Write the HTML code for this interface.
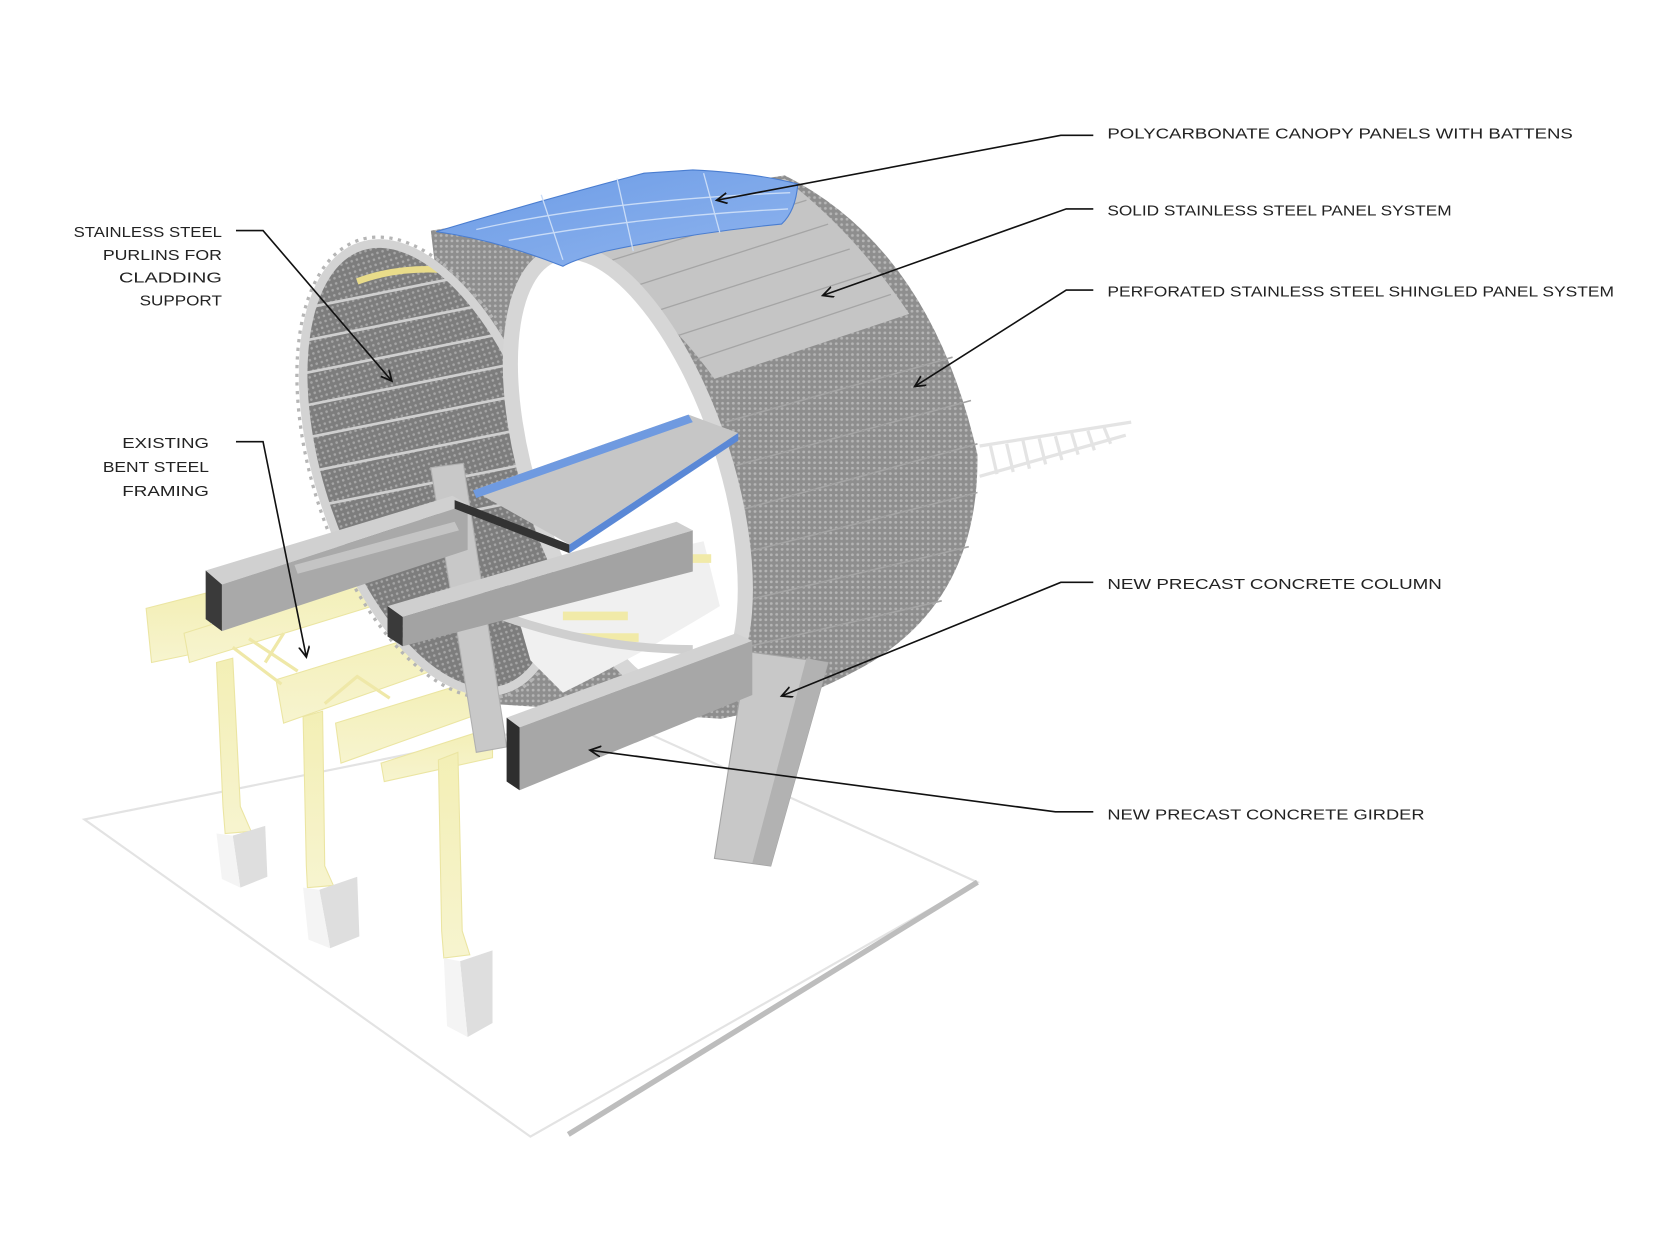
<!DOCTYPE html>
<html><head><meta charset="utf-8"><style>
html,body{margin:0;padding:0;background:#fff;}
svg{display:block;}
text{font-family:"Liberation Sans",sans-serif;font-size:14px;fill:#222;}
</style></head><body>
<svg width="1680" height="1260" viewBox="0 0 1552 1164" preserveAspectRatio="none" xmlns="http://www.w3.org/2000/svg">
<defs>
<marker id="ar" markerWidth="12" markerHeight="12" refX="10" refY="5" orient="auto" markerUnits="userSpaceOnUse">
<path d="M0,0 L10,5 L0,10" fill="none" stroke="#111" stroke-width="1.6"/>
</marker>
<pattern id="perf" width="5" height="5" patternUnits="userSpaceOnUse">
<rect width="5" height="5" fill="#8e8e8e"/><circle cx="2.5" cy="2.5" r="1.3" fill="#b5b5b5"/>
</pattern>
<pattern id="perf2" width="5" height="5" patternUnits="userSpaceOnUse">
<rect width="5" height="5" fill="#7d7d7d"/><circle cx="2.5" cy="2.5" r="1.2" fill="#a5a5a5"/>
</pattern>
<linearGradient id="blue" x1="0" y1="0" x2="1" y2="1">
<stop offset="0" stop-color="#6b9be6"/><stop offset="1" stop-color="#8fb4ee"/>
</linearGradient>
<linearGradient id="yl" x1="0" y1="0" x2="0" y2="1">
<stop offset="0" stop-color="#f3efb5"/><stop offset="1" stop-color="#f7f4cf"/>
</linearGradient>
<clipPath id="farclip"><ellipse cx="400" cy="432" rx="105" ry="215" transform="rotate(-18 400 432)"/></clipPath>
</defs>

<polygon points="78,757 490,1050 903,815 560,660" fill="#fff" stroke="#e3e3e3" stroke-width="2"/>
<line x1="525" y1="1048" x2="903" y2="815" stroke="#bdbdbd" stroke-width="5"/>

<g stroke="#e4e4e4" stroke-width="3" fill="none">
<line x1="905" y1="412" x2="1045" y2="390"/>
<line x1="905" y1="440" x2="1040" y2="402"/>
<path d="M915,412 l6,26 M930,410 l6,26 M945,407 l6,26 M960,405 l6,24 M975,403 l6,22 M990,400 l6,20 M1005,398 l6,18 M1020,395 l6,15"/>
</g>

<g fill="url(#yl)" stroke="#ebe5a2" stroke-width="1">
<polygon points="135,562 190,548 198,600 140,612"/>
<polygon points="170,585 350,528 360,555 175,612"/>
<polygon points="255,628 450,568 455,600 262,668"/>
<polygon points="310,668 450,625 455,655 315,705"/>
<polygon points="352,705 455,672 455,700 355,722"/>
<polygon points="200,612 215,608 222,745 232,768 208,770 206,745"/>
<polygon points="280,662 298,657 300,800 308,818 284,820 283,800"/>
<polygon points="405,702 423,695 427,860 434,882 410,885 408,860"/>
</g>
<path d="M215,598 L260,632 M230,590 L275,620 M245,612 L262,585 M300,650 L330,625 L360,645" stroke="#efe8a8" stroke-width="3" fill="none"/>
<g fill="#dedede">
<polygon points="215,772 245,763 247,810 222,820"/>
<polygon points="295,822 330,810 332,865 305,876"/>
<polygon points="425,888 455,878 455,945 432,958"/>
</g>
<g fill="#f4f4f4">
<polygon points="200,770 215,772 222,820 205,812"/>
<polygon points="280,820 295,822 305,876 285,868"/>
<polygon points="410,885 425,888 432,958 413,948"/>
</g>

<path d="M398,213 L725,162 Q860,230 903,420 Q905,560 790,620 Q730,652 666,664 L450,650 Z" fill="url(#perf)"/>
<path d="M470,230 L725,165 Q790,215 840,290 L660,350 Q610,280 540,240 Z" fill="#c5c5c5"/>
<g stroke="#a5a5a5" stroke-width="1.2" fill="none">
<line x1="550" y1="245" x2="745" y2="185"/><line x1="575" y1="268" x2="765" y2="207"/>
<line x1="598" y1="290" x2="785" y2="230"/><line x1="620" y1="312" x2="805" y2="252"/>
<line x1="640" y1="333" x2="823" y2="272"/>
</g>
<g stroke="#a3a3a3" stroke-width="1.5" fill="none">
<path d="M670,390 L880,330"/><path d="M680,430 L897,370"/><path d="M688,470 L903,410"/>
<path d="M690,510 L903,455"/><path d="M688,555 L895,505"/><path d="M680,600 L870,555"/>
</g>

<ellipse cx="400" cy="432" rx="105" ry="215" transform="rotate(-18 400 432)" fill="url(#perf2)"/>
<g clip-path="url(#farclip)" stroke="#cfcfcf" stroke-width="2.5">
<line x1="280" y1="285" x2="480" y2="245"/><line x1="280" y1="315" x2="480" y2="275"/>
<line x1="280" y1="345" x2="480" y2="305"/><line x1="280" y1="375" x2="480" y2="335"/>
<line x1="280" y1="405" x2="480" y2="365"/><line x1="280" y1="437" x2="480" y2="397"/>
<line x1="280" y1="470" x2="480" y2="430"/><line x1="280" y1="503" x2="480" y2="463"/>
<path d="M330,260 Q370,245 420,250" stroke="#e9dc8a" stroke-width="6" fill="none"/>
</g>
<ellipse cx="400" cy="432" rx="105" ry="215" transform="rotate(-18 400 432)" fill="none" stroke="#d3d3d3" stroke-width="8"/>
<ellipse cx="400" cy="432" rx="111" ry="221" transform="rotate(-18 400 432)" fill="none" stroke="#b5b5b5" stroke-width="3" stroke-dasharray="3 5"/>

<ellipse cx="580" cy="440" rx="90" ry="216" transform="rotate(-18 580 440)" fill="#fff" stroke="#d6d6d6" stroke-width="14"/>
<path d="M470,540 Q560,520 650,500 L665,560 Q600,600 520,640 L490,610 Z" fill="#f0f0f0"/>
<g fill="#f1eaa8"><rect x="520" y="565" width="60" height="8"/><rect x="535" y="585" width="55" height="8"/><rect x="612" y="512" width="45" height="8"/></g>
<path d="M440,560 Q540,600 640,600" stroke="#cfcfcf" stroke-width="8" fill="none"/>

<path d="M403,214 Q500,185 595,160 L640,157 Q700,160 737,170 Q735,195 722,207 Q640,215 560,232 Q530,240 520,246 Q460,222 403,214 Z" fill="url(#blue)" stroke="#4a7dd0" stroke-width="1"/>
<g stroke="#c9dcf7" stroke-width="1.2" fill="none">
<path d="M440,212 Q560,185 730,178"/><path d="M470,222 Q590,200 728,193"/>
<line x1="500" y1="180" x2="520" y2="240"/><line x1="570" y1="165" x2="585" y2="232"/><line x1="650" y1="160" x2="665" y2="215"/>
</g>

<polygon points="398,432 428,428 468,690 440,695" fill="#c8c8c8" stroke="#b0b0b0"/>

<polygon points="190,527 418,458 432,466 205,540" fill="#d0d0d0"/>
<polygon points="205,540 432,466 432,508 205,583" fill="#a9a9a9"/>
<polygon points="190,527 205,540 205,583 190,572" fill="#3a3a3a"/>
<polygon points="272,522 420,482 424,490 275,530" fill="#c4c4c4"/>
<polygon points="437,453 636,383 682,400 526,503" fill="#c6c6c6"/>
<polygon points="437,453 636,383 640,390 440,460" fill="#6f9ae0"/>
<polygon points="526,503 682,400 682,407 526,511" fill="#5a88d6"/>
<polygon points="420,462 526,503 526,511 420,470" fill="#333"/>
<polygon points="358,560 625,482 640,490 372,570" fill="#cfcfcf"/>
<polygon points="372,570 640,490 640,528 372,597" fill="#a3a3a3"/>
<polygon points="358,560 372,570 372,597 358,588" fill="#3a3a3a"/>
<polygon points="690,602 765,612 712,800 660,793" fill="#c8c8c8" stroke="#a5a5a5"/>
<polygon points="745,608 765,612 712,800 695,797" fill="#b2b2b2"/>
<polygon points="468,663 680,585 695,592 480,672" fill="#d2d2d2"/>
<polygon points="480,672 695,592 695,642 480,730" fill="#a7a7a7"/>
<polygon points="468,663 480,672 480,730 468,722" fill="#2e2e2e"/>

<g fill="none" stroke="#111" stroke-width="1.5">
<polyline points="1010,125 980,125 662,185" marker-end="url(#ar)"/>
<polyline points="1010,193 985,193 760,273" marker-end="url(#ar)"/>
<polyline points="1010,268 985,268 845,357" marker-end="url(#ar)"/>
<polyline points="1010,538 980,538 722,643" marker-end="url(#ar)"/>
<polyline points="1010,750 975,750 545,693" marker-end="url(#ar)"/>
<polyline points="218,213 243,213 362,352" marker-end="url(#ar)"/>
<polyline points="218,408 243,408 283,607" marker-end="url(#ar)"/>
</g>

<text x="1023" y="128" textLength="430" lengthAdjust="spacingAndGlyphs">POLYCARBONATE CANOPY PANELS WITH BATTENS</text>
<text x="1023" y="199" textLength="318" lengthAdjust="spacingAndGlyphs">SOLID STAINLESS STEEL PANEL SYSTEM</text>
<text x="1023" y="274" textLength="468" lengthAdjust="spacingAndGlyphs">PERFORATED STAINLESS STEEL SHINGLED PANEL SYSTEM</text>
<text x="1023" y="544" textLength="309" lengthAdjust="spacingAndGlyphs">NEW PRECAST CONCRETE COLUMN</text>
<text x="1023" y="757" textLength="293" lengthAdjust="spacingAndGlyphs">NEW PRECAST CONCRETE GIRDER</text>
<g text-anchor="end">
<text x="205" y="219" textLength="137" lengthAdjust="spacingAndGlyphs">STAINLESS STEEL</text>
<text x="205" y="240" textLength="110" lengthAdjust="spacingAndGlyphs">PURLINS FOR</text>
<text x="205" y="261" textLength="95" lengthAdjust="spacingAndGlyphs">CLADDING</text>
<text x="205" y="282" textLength="76" lengthAdjust="spacingAndGlyphs">SUPPORT</text>
<text x="193" y="414" textLength="80" lengthAdjust="spacingAndGlyphs">EXISTING</text>
<text x="193" y="436" textLength="98" lengthAdjust="spacingAndGlyphs">BENT STEEL</text>
<text x="193" y="458" textLength="80" lengthAdjust="spacingAndGlyphs">FRAMING</text>
</g>
</svg>
</body></html>
